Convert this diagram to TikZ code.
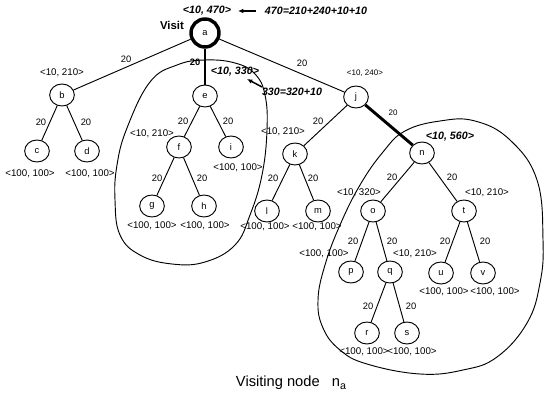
\documentclass[tikz,border=0pt]{standalone}
\usepackage{fontspec}
\setmainfont{Liberation Sans}
\usetikzlibrary{shapes.geometric,arrows.meta}
\begin{document}
\begin{tikzpicture}[x=0.75pt,y=-0.75pt,
 vert/.style={draw,ellipse,minimum width=18.5pt,minimum height=16.5pt,inner sep=0pt,line width=0.7pt,font=\fontsize{7}{8}\selectfont},
 root/.style={draw,circle,minimum size=21pt,inner sep=0pt,line width=2.6pt,font=\fontsize{7}{8}\selectfont},
 edge/.style={line width=0.7pt},
 heavy/.style={line width=2.2pt},
 wt/.style={font=\fontsize{7}{8}\selectfont,inner sep=0pt},
 bwt/.style={font=\bfseries\fontsize{7}{8}\selectfont,inner sep=0pt},
 val/.style={font=\fontsize{7.3}{8}\selectfont,inner sep=0pt},
 sval/.style={font=\fontsize{6}{7}\selectfont,inner sep=0pt},
 bval/.style={font=\bfseries\itshape\fontsize{8}{9}\selectfont,inner sep=0pt},
 blob/.style={line width=0.7pt},
 pointer/.style={line width=1.1pt,-{Latex[length=4pt,width=3.5pt]}},
]
\useasboundingbox (0,0) rectangle (545,395);

% nodes
\node[root] (a) at (205,33) {a};
\node[vert] (b) at (62,95) {b};
\node[vert] (e) at (205,96) {e};
\node[vert] (j) at (356,97) {j};
\node[vert] (c) at (37,151) {c};
\node[vert] (d) at (87,151) {d};
\node[vert] (f) at (179,147) {f};
\node[vert] (i) at (231,147) {i};
\node[vert] (g) at (152,206) {g};
\node[vert] (h) at (204,206) {h};
\node[vert] (k) at (295,154) {k};
\node[vert] (l) at (267,211) {l};
\node[vert] (m) at (318,211) {m};
\node[vert] (n) at (422,153) {n};
\node[vert] (o) at (373,211) {o};
\node[vert] (t) at (464,211) {t};
\node[vert] (p) at (351,272) {p};
\node[vert] (q) at (390,272) {q};
\node[vert] (u) at (441,273) {u};
\node[vert] (v) at (483,273) {v};
\node[vert] (r) at (367,333) {r};
\node[vert] (s) at (407,333) {s};

% edges
\draw[edge] (a) -- (b);
\draw[heavy] (a) -- (e);
\draw[edge] (a) -- (j);
\draw[edge] (b) -- (c);
\draw[edge] (b) -- (d);
\draw[edge] (e) -- (f);
\draw[edge] (e) -- (i);
\draw[edge] (f) -- (g);
\draw[edge] (f) -- (h);
\draw[edge] (j) -- (k);
\draw[heavy] (j) -- (n);
\draw[edge] (k) -- (l);
\draw[edge] (k) -- (m);
\draw[edge] (n) -- (o);
\draw[edge] (n) -- (t);
\draw[edge] (o) -- (p);
\draw[edge] (o) -- (q);
\draw[edge] (q) -- (r);
\draw[edge] (q) -- (s);
\draw[edge] (t) -- (u);
\draw[edge] (t) -- (v);

% edge weights
\node[wt] (wab) at (126,59) {20};
\node[bwt] (wae) at (195,62) {20};
\node[wt] (waj) at (302,63) {20};
\node[wt] (wbc) at (41,122) {20};
\node[wt] (wbd) at (86,122) {20};
\node[wt] (wef) at (183,121) {20};
\node[wt] (wei) at (228,121) {20};
\node[wt] (wfg) at (157,178) {20};
\node[wt] (wfh) at (202,178) {20};
\node[wt] (wjk) at (318,121) {20};
\node[sval] (wjn) at (393,113) {20};
\node[wt] (wkl) at (273,178) {20};
\node[wt] (wkm) at (313,178) {20};
\node[wt] (wno) at (392,177) {20};
\node[wt] (wnt) at (452,177) {20};
\node[wt] (wop) at (353,241) {20};
\node[wt] (woq) at (392,241) {20};
\node[wt] (wtu) at (445,241) {20};
\node[wt] (wtv) at (485,241) {20};
\node[wt] (wqr) at (368,306) {20};
\node[wt] (wqs) at (411,306) {20};

% value labels
\node[bval] (va) at (207,11) {<10, 470>};
\node[bval] (vsum) at (316,11) {470=210+240+10+10};
\coordinate (arA) at (256,11);
\coordinate (arB) at (238,11);
\draw[pointer] (arA) -- (arB);
\node[font=\bfseries\fontsize{8.5}{9}\selectfont,inner sep=0pt] (visit) at (172,25) {Visit};
\node[val] (vb) at (62,73) {<10, 210>};
\node[bval] (ve) at (235,72) {<10, 330>};
\node[bval] (vesum) at (292,92) {330=320+10};
\coordinate (ar2A) at (262,87);
\coordinate (ar2B) at (247,79);
\draw[pointer] (ar2A) -- (ar2B);
\node[sval] (vj) at (365,73) {<10, 240>};
\node[val] (vc) at (30,174) {<100, 100>};
\node[val] (vd) at (90,174) {<100, 100>};
\node[val] (vf) at (152,134) {<10, 210>};
\node[val] (vi) at (238,168) {<100, 100>};
\node[val] (vg) at (152,226) {<100, 100>};
\node[val] (vh) at (205,226) {<100, 100>};
\node[val] (vk) at (283,132) {<10, 210>};
\node[val] (vl) at (265,227) {<100, 100>};
\node[val] (vm) at (317,227) {<100, 100>};
\node[bval] (vn) at (450,137) {<10, 560>};
\node[val] (vo) at (359,193) {<10, 320>};
\node[val] (vt) at (487,193) {<10, 210>};
\node[val] (vp) at (324,254) {<100, 100>};
\node[val] (vq) at (415,254) {<10, 210>};
\node[val] (vu) at (444,292) {<100, 100>};
\node[val] (vv) at (495,292) {<100, 100>};
\node[val] (vr) at (364,352) {<100, 100>};
\node[val] (vs) at (412,352) {<100, 100>};

% enclosing curves
\draw[blob] plot[smooth cycle,tension=0.7] coordinates {(150,82) (177,65) (205,60) (235,63) (255,74) (265,95) (267,130) (262,175) (250,215) (235,245) (205,262) (172,264) (140,255) (120,235) (115,200) (117,165) (127,128)};
\draw[blob] plot[smooth cycle,tension=0.7] coordinates {(405,131) (383,152) (360,185) (340,225) (325,265) (318,300) (323,328) (340,350) (367,364) (420,374) (463,370) (497,357) (527,323) (540,283) (543,240) (537,180) (510,140) (475,121) (440,121)};

% caption
\node[font=\fontsize{11}{13}\selectfont,inner sep=0pt] (cap) at (291,383) {Visiting node\ \ \ n\raisebox{-0.35ex}{\fontsize{8}{9}\selectfont a}};
\end{tikzpicture}
\end{document}
